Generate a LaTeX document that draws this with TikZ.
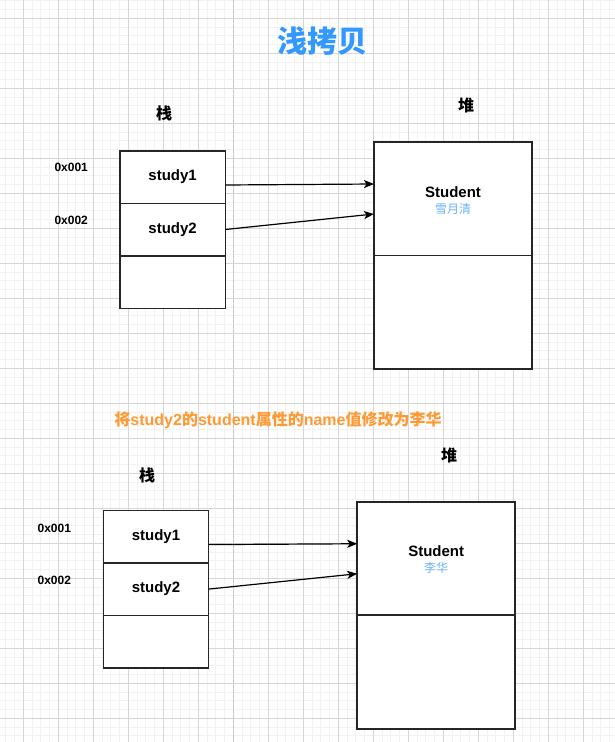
\documentclass[tikz,border=0pt]{standalone}
\usepackage{fontspec}
\setmainfont{Liberation Sans}
\newfontfamily\cjk{Noto Sans CJK SC}
\usetikzlibrary{positioning, arrows.meta}

\definecolor{titleblue}{HTML}{3399FF}
\definecolor{nameblue}{HTML}{66B2FF}
\definecolor{noteorange}{HTML}{FF9933}
\definecolor{gridmajor}{HTML}{D6D6D6}
\definecolor{gridminor}{HTML}{F2F2F2}
\definecolor{dashgrey}{HTML}{C4C4C4}

\begin{document}
\begin{tikzpicture}[x=1pt, y=-1pt,
    >={Stealth[length=10pt, width=8pt, inset=2.5pt]},
    cell/.style={draw=black!85, fill=white, line width=1.5pt, outer sep=0pt,
        minimum width=105.3pt, minimum height=52.5pt, inner sep=0pt,
        font=\bfseries\fontsize{15}{18}\selectfont},
    heapbox/.style={draw=black!85, fill=white, line width=1.5pt, outer sep=0pt,
        minimum width=158pt, minimum height=113.5pt, inner sep=0pt},
    addr/.style={font=\bfseries\fontsize{12}{14}\selectfont},
    areatext/.style={font=\cjk\bfseries\fontsize{16}{18}\selectfont},
    stutext/.style={font=\bfseries\fontsize{15}{18}\selectfont, inner sep=0pt},
    nametext/.style={font=\cjk\fontsize{12}{14}\selectfont, text=nameblue, inner sep=0pt},
    ptr/.style={->, line width=1.2pt, black}]

    \useasboundingbox (0,0) rectangle (615,742);
    \fill[white] (0,0) rectangle (615,742);

    % Background grid
    \foreach \i in {0,...,69}
        \draw[gridminor, line width=0.8pt] (5.833+8.75*\i, 0) -- ++(0,742);
    \foreach \i in {0,...,84}
        \draw[gridminor, line width=0.8pt] (0, 0.833+8.75*\i) -- ++(615,0);
    \foreach \i in {0,...,17}
        \draw[gridmajor, line width=1pt] (23.333+35*\i, 0) -- ++(0,742);
    \foreach \i in {0,...,20}
        \draw[gridmajor, line width=1pt] (0, 18.333+35*\i) -- ++(615,0);

    % Dividing line
    \draw[dashgrey, line width=1.3pt, dash pattern=on 3pt off 2pt] (233.3,0) -- (233.3,742);

    % Title
    \node (title) at (322,41) {\cjk\bfseries\fontsize{30}{34}\selectfont\color{titleblue}浅拷贝};

    % Before: stack and heap
    \node[areatext] (stackA) at (164,113) {栈};
    \node[areatext] (heapA) at (466,105) {堆};

    \node[addr] (addrA1) at (71.2,167) {0x001};
    \node[addr] (addrA2) at (71.2,220.7) {0x002};

    \node[cell] (stA1) at (172.6,177) {study1};
    \node[cell, below=0pt of stA1] (stA2) {study2};
    \node[cell, below=0pt of stA2] (stA3) {};

    \node[heapbox, minimum height=113.3pt] (hpA1) at (453,198.65) {};
    \node[heapbox, minimum height=113.7pt, below=0pt of hpA1] (hpA2) {};
    \node[stutext] (stuA) at ([yshift=7pt]hpA1.center) {Student};
    \node[nametext] (nameA) at ([yshift=-10pt]hpA1.center) {雪月清};

    \coordinate (inA1) at ([yshift=-42pt]hpA1.north west);
    \coordinate (inA2) at ([yshift=-72pt]hpA1.north west);
    \draw[ptr] ([yshift=-8pt]stA1.east) -- (inA1);
    \draw[ptr] (stA2.east) -- (inA2);

    % Note
    \node (note) at (278,420) {\bfseries\fontsize{16}{18}\selectfont\color{noteorange}{\cjk 将}study2{\cjk 的}student{\cjk 属性的}name{\cjk 值修改为李华}};

    % After: stack and heap
    \node[areatext] (stackB) at (147,475) {栈};
    \node[areatext] (heapB) at (449,455) {堆};

    \node[addr] (addrB1) at (54.3,528) {0x001};
    \node[addr] (addrB2) at (54.3,580) {0x002};

    \node[cell] (stB1) at (156,536.6) {study1};
    \node[cell, below=0pt of stB1] (stB2) {study2};
    \node[cell, below=0pt of stB2] (stB3) {};

    \node[heapbox, minimum height=113.3pt] (hpB1) at (436.2,558.4) {};
    \node[heapbox, minimum height=114pt, below=0pt of hpB1] (hpB2) {};
    \node[stutext] (stuB) at ([yshift=7.5pt]hpB1.center) {Student};
    \node[nametext] (nameB) at ([yshift=-9.5pt]hpB1.center) {李华};

    \coordinate (inB1) at ([yshift=-42pt]hpB1.north west);
    \coordinate (inB2) at ([yshift=-72pt]hpB1.north west);
    \draw[ptr] ([yshift=-8pt]stB1.east) -- (inB1);
    \draw[ptr] (stB2.east) -- (inB2);

\end{tikzpicture}
\end{document}
